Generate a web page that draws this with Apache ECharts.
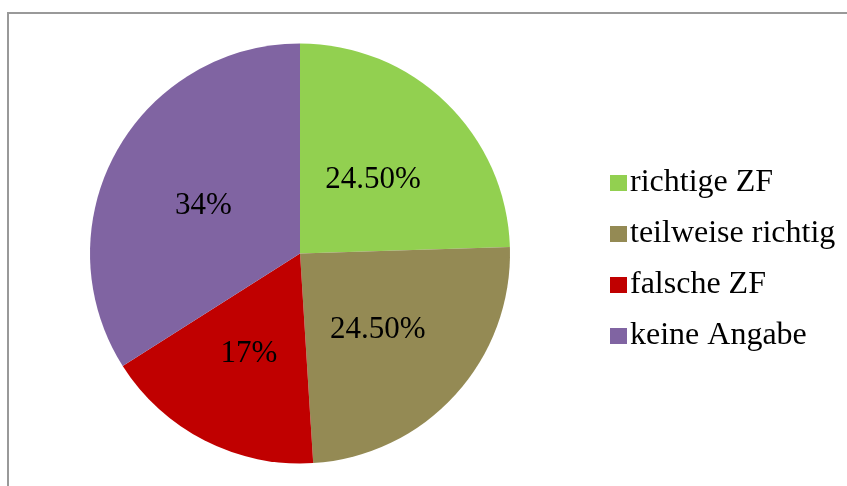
<!DOCTYPE html>
<html>
<head>
<meta charset="utf-8">
<script src="https://cdn.jsdelivr.net/npm/echarts@6/dist/echarts.min.js"></script>
<style>
    html, body { margin: 0; padding: 0; background: #fff; }
    #chart { width: 847px; height: 486px; }
</style>
</head>
<body>
<div id="chart"></div>
<script>
// Daten aus dem Bild
var categories = ["richtige ZF", "teilweise richtig", "falsche ZF", "keine Angabe"];
var values = [24.5, 24.5, 17, 34];
var labelTexts = ["24.50%", "24.50%", "17%", "34%"];
var colors = ["#92D050", "#948A54", "#C00000", "#8064A2"];

var seriesData = [];
for (let i = 0; i < categories.length; i++) {
    seriesData.push({
        name: categories[i],
        value: values[i],
        itemStyle: { color: colors[i] }
    });
}

var font = "'Liberation Serif', 'Times New Roman', serif";

var option = {
    animation: false,
    // Rahmen oben/links wie im Original
    graphic: [{
        type: "rect",
        shape: { x: 8, y: 13, width: 900, height: 500 },
        style: { fill: "none", stroke: "#999999", lineWidth: 2 },
        silent: true
    }],
    legend: {
        orient: "vertical",
        left: 605,
        top: 162,
        itemWidth: 17,
        itemHeight: 16,
        itemGap: 19,
        icon: "rect",
        data: categories,
        textStyle: {
            color: "#000",
            fontFamily: font,
            fontSize: 32,
            lineHeight: 32,
            padding: [0, 0, 0, -2]
        }
    },
    series: [{
        type: "pie",
        center: [300, 253.5],
        radius: 210,
        startAngle: 90,
        clockwise: true,
        avoidLabelOverlap: false,
        label: {
            show: true,
            position: "inside",
            color: "#000",
            fontFamily: font,
            fontSize: 31,
            offset: [-2, 4],
            formatter: function (p) {
                return labelTexts[p.dataIndex];
            }
        },
        labelLine: { show: false },
        emphasis: { disabled: true },
        data: seriesData
    }]
};

var myChart = echarts.init(document.getElementById("chart"));
myChart.setOption(option);
</script>
</body>
</html>
